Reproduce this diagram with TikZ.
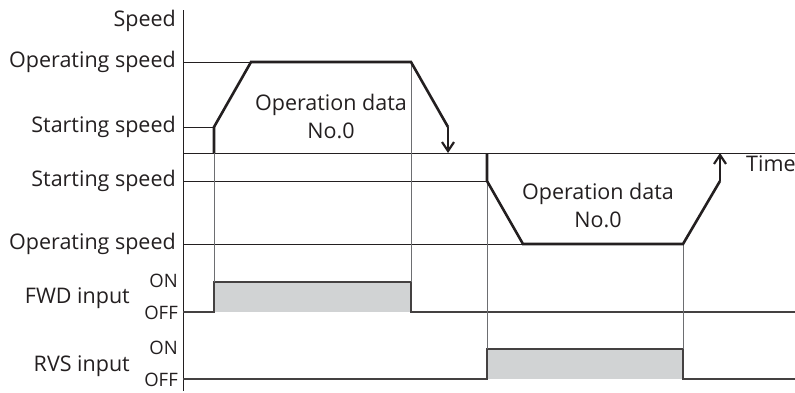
\documentclass[tikz,border=0pt]{standalone}
\usepackage{fontspec}
\setmainfont{Open Sans}
\usetikzlibrary{arrows.meta}
\definecolor{Ink}{HTML}{231F20}
\definecolor{Guide}{HTML}{6D6E71}
\definecolor{Shade}{HTML}{D1D3D4}
\tikzset{
    axisline/.style={draw=Ink, line width=0.9pt},
    guide/.style={draw=Guide, line width=0.9pt},
    profile/.style={draw=Ink, line width=2.6pt, line join=miter},
    signal/.style={draw=Ink!85, line width=1.4pt},
    shade/.style={fill=Shade},
    dirarrow/.style={-{Straight Barb[length=9pt, width=12pt, line width=2.2pt]}},
    lbl/.style={anchor=east, inner sep=0pt, text=Ink, font=\fontsize{21.5}{25}\selectfont},
    state/.style={anchor=east, inner sep=0pt, text=Ink, font=\fontsize{18.5}{20}\selectfont},
    body/.style={align=center, inner sep=0pt, text=Ink, font=\fontsize{21.5}{28}\selectfont},
}
\begin{document}
\begin{tikzpicture}[x=1pt, y=-1pt]
    \useasboundingbox (0,0) rectangle (795,392);

    % Axis and time axis
    \coordinate (top) at (183,10);
    \coordinate (bot) at (183,391);
    \coordinate (t0) at (183,153);
    \coordinate (tend) at (795,153);
    \draw[axisline] (top) -- (bot);
    \draw[axisline] (t0) -- (tend);

    % Key points of the forward run
    \coordinate (f0) at (214,153);
    \coordinate (f1) at (214,127);
    \coordinate (f2) at (251,62);
    \coordinate (f3) at (411,62);
    \coordinate (f4) at (448,127);
    \coordinate (f5) at (448,153);

    % Key points of the reverse run
    \coordinate (r0) at (487,153);
    \coordinate (r1) at (487,181);
    \coordinate (r2) at (523,244);
    \coordinate (r3) at (683,244);
    \coordinate (r4) at (720,181);
    \coordinate (r5) at (720,153);

    % Level lines
    \draw[axisline] (183,62) -- (f2);
    \draw[axisline] (183,127) -- (f1);
    \draw[axisline] (183,181) -- (r1);
    \draw[axisline] (183,244) -- (r2);

    % Input signals
    \fill[shade] (214,282) rectangle (411,312);
    \fill[shade] (487,349) rectangle (683,379);
    \draw[signal] (183,312) -- (214,312) -- (214,282) -- (411,282) -- (411,312) -- (795,312);
    \draw[signal] (183,379) -- (487,379) -- (487,349) -- (683,349) -- (683,379) -- (795,379);

    % Guide lines
    \draw[guide] (f0) -- (214,282);
    \draw[guide] (f3) -- (411,282);
    \draw[guide] (r1) -- (487,349);
    \draw[guide] (r3) -- (683,349);

    % Speed profiles
    \draw[profile] (f0) -- (f1) -- (f2) -- (f3) -- (f4);
    \draw[profile, dirarrow] (f4) -- (f5);
    \draw[profile] (r0) -- (r1) -- (r2) -- (r3) -- (r4);
    \draw[profile, dirarrow] (r4) -- (r5);

    % Labels
    \node[lbl] (speed) at (176,21) {Speed};
    \node[lbl] (opfwd) at (176,62) {Operating speed};
    \node[lbl] (stfwd) at (176,127) {Starting speed};
    \node[lbl] (strvs) at (176,181) {Starting speed};
    \node[lbl] (oprvs) at (176,244) {Operating speed};
    \node[lbl, anchor=west] (time) at (746,164) {Time};
    \node[lbl] (fwd) at (130,298) {FWD input};
    \node[state] (fwdon) at (178,281) {ON};
    \node[state] (fwdoff) at (178,313) {OFF};
    \node[lbl] (rvs) at (130,366) {RVS input};
    \node[state] (rvson) at (178,348) {ON};
    \node[state] (rvsoff) at (178,380) {OFF};
    \node[body] (datafwd) at (331,116) {Operation data\\No.0};
    \node[body] (datarvs) at (598,205.5) {Operation data\\No.0};
\end{tikzpicture}
\end{document}
